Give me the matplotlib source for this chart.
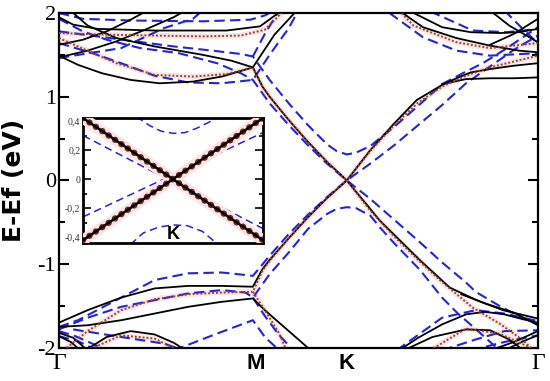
import matplotlib
matplotlib.use('Agg')
import matplotlib.pyplot as plt

# high-symmetry points along the path (fraction of path length)
kpath = [0.0, 0.41, 0.601, 1.0]
klabels = ['Γ', 'M', 'K', 'Γ']
yticks = [-2, -1, 0, 1, 2]
ylabels = ['-2', '-1', '0', '1', '2']

# black solid bands
black_k = [
    [0, 0.03, 0.08, 0.2, 0.35, 0.42, 0.47],
    [0.02, 0.06, 0.12, 0.2, 0.3, 0.36, 0.405, 0.425, 0.44, 0.48, 0.52, 0.56, 0.601,
     0.67, 0.755, 0.816, 0.872, 0.927, 1.0],
    [0, 0.04, 0.09, 0.15, 0.21, 0.28, 0.34, 0.405, 0.45, 0.50],
    [0, 0.06, 0.12, 0.18, 0.24, 0.265],
    [0, 0.05, 0.10, 0.15, 0.185],
    [0, 0.06, 0.13, 0.2, 0.27, 0.34, 0.405, 0.425, 0.44, 0.48, 0.52, 0.56, 0.601,
     0.65, 0.70, 0.747, 0.80, 0.83, 0.86, 0.90, 0.95, 1.0],
    [0, 0.06, 0.13, 0.2, 0.27, 0.34, 0.405, 0.43, 0.48, 0.53],
    [0, 0.03, 0.06],
    [0.055, 0.1, 0.15, 0.2, 0.24, 0.265],
    [0, 0.025, 0.045],
    [0.84, 0.89, 0.95, 1.0],
    [0.71, 0.75, 0.80, 0.85, 0.89, 0.93, 0.97, 1.0],
    [0.72, 0.78, 0.85, 0.90, 0.94, 0.97],
    [0.9, 0.95, 1.0],
    [0.93, 0.97, 1.0],
    [0.80, 0.85, 0.90, 0.95, 1.0],
    [0.71, 0.76, 0.83, 0.90, 0.96, 1.0],
    [0.73, 0.80, 0.86, 0.92, 0.96, 1.0],
    [0.90, 0.94, 1.0],
    [0.90, 0.95, 1.0],
]
black_e = [
    [1.95, 1.86, 1.81, 1.79, 1.79, 1.84, 2.05],
    [2.05, 1.85, 1.70, 1.60, 1.50, 1.43, 1.35, 1.12, 1.0, 0.72, 0.46, 0.22, 0.0,
     -0.48, -0.96, -1.28, -1.43, -1.55, -1.65],
    [1.49, 1.38, 1.28, 1.20, 1.16, 1.18, 1.24, 1.35, 1.74, 2.05],
    [1.47, 1.55, 1.66, 1.80, 1.95, 2.03],
    [1.62, 1.68, 1.78, 1.92, 2.03],
    [-1.70, -1.55, -1.40, -1.29, -1.26, -1.26, -1.27, -1.06, -0.95, -0.69, -0.44, -0.21, 0.0,
     0.36, 0.68, 0.96, 1.14, 1.22, 1.29, 1.33, 1.37, 1.40],
    [-1.75, -1.73, -1.67, -1.59, -1.51, -1.45, -1.41, -1.55, -1.80, -2.05],
    [-1.82, -1.88, -2.03],
    [-2.03, -1.87, -1.80, -1.84, -1.94, -2.03],
    [-1.86, -1.93, -2.03],
    [-1.36, -1.47, -1.58, -1.73],
    [-2.03, -1.88, -1.72, -1.60, -1.57, -1.60, -1.66, -1.70],
    [-2.03, -1.87, -1.78, -1.79, -1.90, -2.03],
    [-2.03, -1.93, -1.80],
    [-2.03, -1.92, -1.85],
    [1.15, 1.21, 1.22, 1.22, 1.23],
    [2.03, 1.83, 1.70, 1.61, 1.55, 1.53],
    [2.03, 1.83, 1.77, 1.76, 1.77, 1.81],
    [2.03, 1.85, 1.65],
    [1.62, 1.75, 1.93],
]

# blue dashed bands
blue_k = [
    [0, 0.05, 0.15, 0.3, 0.40, 0.43, 0.45],
    [0, 0.05, 0.10, 0.17, 0.25, 0.33, 0.38, 0.405, 0.44, 0.48, 0.52, 0.56, 0.601,
     0.65, 0.70, 0.75, 0.80, 0.85, 0.87, 0.92, 0.96, 1.0],
    [0, 0.07, 0.13, 0.2, 0.27, 0.34, 0.405, 0.44, 0.48, 0.50],
    [0, 0.08, 0.16, 0.24, 0.32, 0.38, 0.405, 0.44, 0.48, 0.52, 0.56, 0.58, 0.601,
     0.62, 0.65, 0.70, 0.75, 0.80, 0.85, 0.885, 0.93, 1.0],
    [0.405, 0.43, 0.46],
    [0.0, 0.03, 0.13, 0.22, 0.28, 0.30],
    [0, 0.04, 0.13, 0.2, 0.27, 0.34, 0.39, 0.405, 0.44, 0.48, 0.52, 0.56, 0.601,
     0.65, 0.70, 0.75, 0.80, 0.85, 0.90, 0.95, 1.0],
    [0, 0.06, 0.13, 0.2, 0.27, 0.34, 0.39, 0.405, 0.44, 0.48, 0.52, 0.56, 0.58, 0.601,
     0.62, 0.65, 0.67, 0.70, 0.754, 0.80, 0.833, 0.875, 0.92],
    [0.24, 0.33, 0.405, 0.43, 0.46],
    [0.405, 0.43, 0.46, 0.49],
    [0, 0.03, 0.07, 0.10],
    [0, 0.04, 0.08],
    [0.03, 0.13, 0.22, 0.26],
    [0.705, 0.80, 0.87, 0.93, 1.0],
    [0.80, 0.87, 0.93, 1.0],
    [0.86, 0.93, 1.0],
    [0.69, 0.76, 0.83, 0.90, 1.0],
    [0.775, 0.864, 0.935, 1.0],
    [0.93, 0.97, 1.0],
]
blue_e = [
    [2.0, 1.93, 1.91, 1.90, 1.92, 1.97, 2.03],
    [1.93, 1.78, 1.68, 1.58, 1.52, 1.40, 1.28, 1.20, 0.92, 0.66, 0.42, 0.20, 0.0,
     -0.22, -0.47, -0.72, -0.98, -1.22, -1.33, -1.50, -1.62, -1.72],
    [1.64, 1.52, 1.40, 1.25, 1.17, 1.16, 1.20, 1.50, 1.82, 2.03],
    [1.78, 1.72, 1.66, 1.60, 1.55, 1.51, 1.48, 1.20, 0.92, 0.66, 0.43, 0.35, 0.31,
     0.33, 0.41, 0.64, 0.89, 1.15, 1.30, 1.40, 1.56, 1.83],
    [1.48, 1.75, 2.03],
    [1.46, 1.49, 1.58, 1.82, 1.93, 2.03],
    [-1.75, -1.67, -1.40, -1.19, -1.11, -1.10, -1.13, -1.14, -0.90, -0.64, -0.41, -0.20, 0.0,
     0.20, 0.42, 0.66, 0.90, 1.16, 1.36, 1.56, 1.73],
    [-1.78, -1.64, -1.51, -1.43, -1.35, -1.31, -1.34, -1.40, -1.12, -0.86, -0.58, -0.40, -0.34, -0.32,
     -0.33, -0.42, -0.56, -0.75, -1.07, -1.40, -1.59, -1.80, -2.03],
    [-2.03, -1.83, -1.67, -1.87, -2.03],
    [-1.40, -1.62, -1.85, -2.03],
    [-1.80, -1.85, -1.95, -2.03],
    [-1.86, -1.92, -2.03],
    [-1.78, -1.87, -1.95, -2.03],
    [-2.03, -1.64, -1.55, -1.59, -1.68],
    [-2.03, -1.90, -1.80, -1.79],
    [-2.03, -1.93, -1.85],
    [2.0, 1.71, 1.55, 1.49, 1.52],
    [2.02, 1.79, 1.77, 1.81],
    [2.03, 1.80, 1.64],
]

# brown dotted bands
brown_k = [
    [0, 0.1, 0.2, 0.3, 0.38, 0.43, 0.47],
    [0, 0.06, 0.12, 0.2, 0.28, 0.35, 0.405, 0.425, 0.44, 0.48, 0.52, 0.56, 0.601,
     0.65, 0.70, 0.75, 0.795, 0.864, 0.92, 0.969, 0.99],
    [0.01, 0.06, 0.13, 0.2, 0.27, 0.34, 0.405, 0.425, 0.44, 0.48, 0.52, 0.56, 0.601,
     0.65, 0.70, 0.75, 0.80, 0.85, 0.9, 0.95, 1.0],
    [0.405, 0.43, 0.46, 0.475],
    [0.06, 0.13, 0.2, 0.25],
    [0.71, 0.74, 0.83, 0.90, 1.0],
    [0.775, 0.85, 0.92, 0.985],
]
brown_e = [
    [1.76, 1.74, 1.73, 1.72, 1.73, 1.80, 2.03],
    [1.70, 1.55, 1.40, 1.26, 1.24, 1.27, 1.35, 1.12, 1.0, 0.72, 0.46, 0.22, 0.0,
     -0.36, -0.67, -0.95, -1.19, -1.52, -1.71, -1.91, -2.03],
    [-2.03, -1.80, -1.55, -1.42, -1.36, -1.34, -1.33, -1.08, -0.96, -0.69, -0.44, -0.21, 0.0,
     0.35, 0.66, 0.93, 1.12, 1.25, 1.35, 1.42, 1.49],
    [-1.33, -1.55, -1.83, -2.03],
    [-2.03, -1.85, -1.89, -2.03],
    [2.03, 1.85, 1.65, 1.58, 1.64],
    [-2.03, -1.77, -1.83, -2.0],
]

# inset: zoom around K (k measured from K)
ins_cone_k = [[-0.076, 0.076], [-0.076, 0.076]]
ins_cone_e = [[0.42, -0.42], [-0.42, 0.42]]
ins_blue_k = [
    [-0.076, 0.076],
    [-0.076, 0.076],
    [-0.031, -0.02, -0.01, 0, 0.01, 0.02, 0.03, 0.039],
    [-0.036, -0.025, -0.012, 0, 0.012, 0.025, 0.038],
]
ins_blue_e = [
    [0.30, -0.34],
    [-0.26, 0.32],
    [0.43, 0.37, 0.33, 0.315, 0.32, 0.35, 0.39, 0.43],
    [-0.45, -0.37, -0.33, -0.315, -0.32, -0.36, -0.45],
]
ins_yticks = [-0.4, -0.2, 0, 0.2, 0.4]
ins_ylabels = ['-0,4', '-0,2', '0', '0,2', '0,4']

BLUE = '#2323d8'
BROWN = '#8b4a22'
HALO = '#fde3e7'

fig = plt.figure(figsize=(5.5, 3.81), dpi=100)
ax = fig.add_axes([0.107, 0.087, 0.871, 0.879])

for k, e in zip(brown_k, brown_e):
    ax.plot(k, e, color=HALO, lw=4, solid_capstyle='round', zorder=1)
for k, e in zip(blue_k, blue_e):
    ax.plot(k, e, color=BLUE, lw=1.5, ls=(0, (5, 2.5)), zorder=2)
for k, e in zip(black_k, black_e):
    ax.plot(k, e, color='black', lw=1.3, zorder=3)
for k, e in zip(brown_k, brown_e):
    ax.plot(k, e, color=BROWN, lw=1.4, ls=(0, (1, 1)), zorder=4)

ax.set_xlim(0, 1)
ax.set_ylim(-2, 2)
ax.set_yticks(yticks)
ax.set_yticklabels(ylabels, family='Liberation Serif', fontsize=16)
ax.set_yticks([-1.5, -0.5, 0.5, 1.5], minor=True)
ax.tick_params(axis='y', which='both', direction='in', left=True, right=True, width=1.5)
ax.tick_params(axis='y', which='major', length=7, pad=2)
ax.tick_params(axis='y', which='minor', length=4)
ax.set_xticks(kpath)
ax.set_xticklabels(klabels)
ax.tick_params(axis='x', length=0, pad=4)
for lab in ax.get_xticklabels():
    if lab.get_text() == 'Γ':
        lab.set_family('Liberation Serif')
        lab.set_fontsize(17)
    else:
        lab.set_family('Liberation Sans')
        lab.set_fontweight('bold')
        lab.set_fontsize(16)
for sp in ax.spines.values():
    sp.set_linewidth(1.6)
ax.set_ylabel('E-Ef (eV)', family='DejaVu Sans', fontweight='bold', fontsize=18)
ax.yaxis.set_label_coords(-0.068, 0.5)

# inset
axin = fig.add_axes([0.151, 0.362, 0.327, 0.328])
for k, e in zip(ins_blue_k, ins_blue_e):
    axin.plot(k, e, color=BLUE, lw=1.1, ls=(0, (5, 3)), zorder=2)
for k, e in zip(ins_cone_k, ins_cone_e):
    axin.plot(k, e, color=HALO, lw=8, zorder=3)
    axin.plot(k, e, color='#6e2812', lw=4.6, ls=(0, (0.01, 1.2)),
              dash_capstyle='round', zorder=4)
    axin.plot(k, e, color='black', lw=1.8, zorder=5)
axin.set_xlim(-0.076, 0.076)
axin.set_ylim(-0.44, 0.42)
axin.set_xticks([])
axin.set_yticks(ins_yticks)
axin.set_yticklabels(ins_ylabels, family='Liberation Serif', fontsize=7, color='#333333')
axin.set_yticks([-0.3, -0.1, 0.1, 0.3], minor=True)
axin.tick_params(axis='y', which='both', direction='in', left=True, right=True, width=1.2, pad=2)
axin.tick_params(axis='y', which='major', length=6)
axin.tick_params(axis='y', which='minor', length=3)
for sp in axin.spines.values():
    sp.set_linewidth(2)
axin.text(0, -0.44, 'K', ha='center', va='bottom', family='Liberation Sans',
          fontweight='bold', fontsize=13)

fig.savefig('out.png', dpi=100)
